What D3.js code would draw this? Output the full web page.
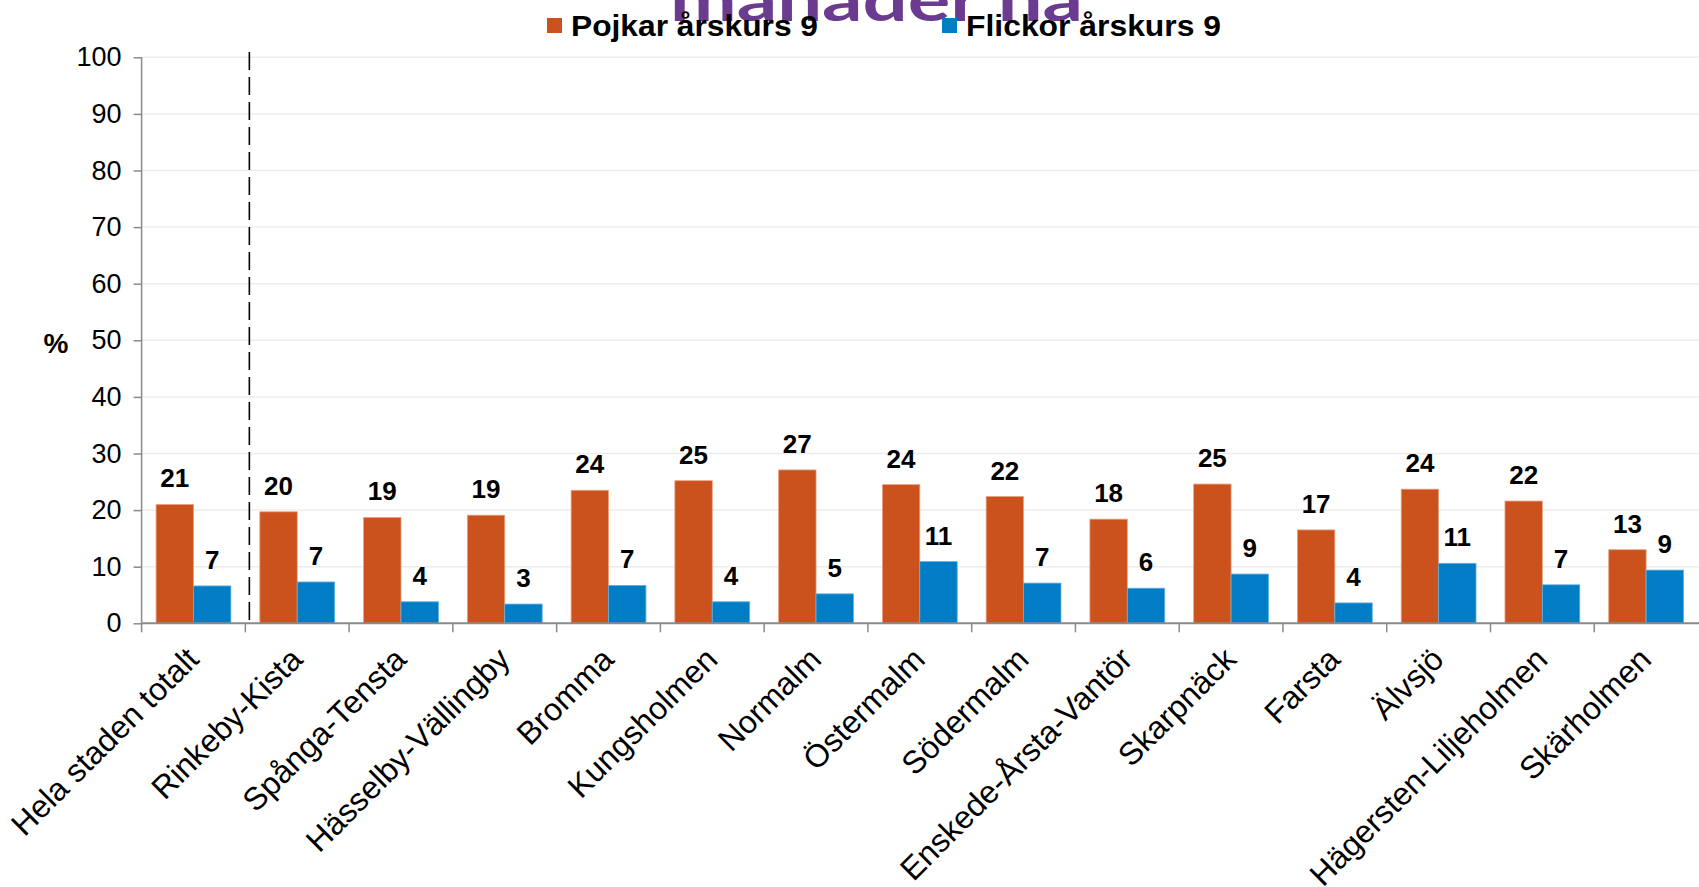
<!DOCTYPE html>
<html>
<head>
<meta charset="utf-8">
<script src="https://cdn.jsdelivr.net/npm/d3@7"></script>
<style>
  body { margin: 0; background: #fff; }
  svg { display: block; font-family: "Liberation Sans", Arial, sans-serif; }
</style>
</head>
<body>
<script>
// grouped bar chart, boys vs girls per district

var districts = ["Hela staden totalt", "Rinkeby-Kista", "Spånga-Tensta", "Hässelby-Vällingby",
    "Bromma", "Kungsholmen", "Normalm", "Östermalm", "Södermalm", "Enskede-Årsta-Vantör",
    "Skarpnäck", "Farsta", "Älvsjö", "Hägersten-Liljeholmen", "Skärholmen"];
var boys  = [21.0, 19.7, 18.7, 19.1, 23.5, 25.2, 27.1, 24.5, 22.4, 18.4, 24.6, 16.5, 23.7, 21.6, 13.0];
var girls = [6.6, 7.3, 3.8, 3.4, 6.7, 3.8, 5.2, 10.9, 7.1, 6.2, 8.7, 3.6, 10.6, 6.8, 9.4];
var boysLabels  = ["21", "20", "19", "19", "24", "25", "27", "24", "22", "18", "25", "17", "24", "22", "13"];
var girlsLabels = ["7", "7", "4", "3", "7", "4", "5", "11", "7", "6", "9", "4", "11", "7", "9"];
var series = ["Pojkar årskurs 9", "Flickor årskurs 9"];
var colors = ["#cb511d", "#007dc4"];
var yTicks = [0, 10, 20, 30, 40, 50, 60, 70, 80, 90, 100];

var width = 1699, height = 887;

var svg = d3.select("body").append("svg")
    .attr("width", width)
    .attr("height", height);

// scales
var x = d3.scaleBand()
    .domain(districts)
    .range([141.6, 1698]);

var xSub = d3.scaleBand()
    .domain([0, 1])
    .range([0, x.bandwidth()])
    .paddingOuter(0.387);

var y = d3.scaleLinear()
    .domain([0, 100])
    .range([623.3, 57.3]);

// gridlines
svg.append("g")
    .selectAll("line")
    .data(yTicks.slice(1))
    .enter()
    .append("line")
    .attr("x1", x.range()[0])
    .attr("x2", width)
    .attr("y1", function(d){ return y(d); })
    .attr("y2", function(d){ return y(d); })
    .attr("stroke", "#ececec")
    .attr("stroke-width", 1.5);

// cut-off title at the top
svg.append("text")
    .attr("x", 670)
    .attr("y", 21)
    .attr("textLength", 413)
    .attr("lengthAdjust", "spacingAndGlyphs")
    .style("font-family", "Lato, 'Open Sans', sans-serif")
    .style("font-weight", "bold")
    .style("font-size", "60px")
    .style("fill", "#6b3b8f")
    .text("månader nå");

// y axis
var yAxis = d3.axisLeft(y)
    .tickValues(yTicks)
    .tickSize(8)
    .tickPadding(12);

var gy = svg.append("g")
    .attr("transform", "translate(" + x.range()[0] + ",0)")
    .call(yAxis);
gy.select(".domain").attr("stroke", "#8a8a8a").attr("stroke-width", 1.5)
    .attr("d", "M0," + y(100) + "V" + y(0));
gy.selectAll(".tick line").attr("stroke", "#8a8a8a").attr("stroke-width", 1.5);
gy.selectAll(".tick text")
    .style("font-size", "27px")
    .style("font-family", "'Liberation Sans', Arial, sans-serif")
    .attr("fill", "#000");

// % label
svg.append("text")
    .attr("x", 56)
    .attr("y", 353)
    .attr("text-anchor", "middle")
    .style("font-size", "28px")
    .style("font-weight", "bold")
    .text("%");

// bars
var groups = svg.selectAll(".district")
    .data(districts)
    .enter()
    .append("g")
    .attr("class", "district")
    .attr("transform", function(d){ return "translate(" + x(d) + ",0)"; });

[boys, girls].forEach(function(vals, s){
    groups.append("rect")
        .attr("x", xSub(s))
        .attr("width", xSub.bandwidth())
        .attr("y", function(d, i){ return y(vals[i]); })
        .attr("height", function(d, i){ return y(0) - y(vals[i]); })
        .attr("fill", colors[s])
        .attr("stroke", s === 0 ? "#e8a283" : "#5fb0e0")
        .attr("stroke-width", 0.8);
});

// value labels
[[boys, boysLabels], [girls, girlsLabels]].forEach(function(pair, s){
    groups.append("text")
        .attr("x", xSub(s) + xSub.bandwidth() / 2)
        .attr("y", function(d, i){ return y(pair[0][i]) - 17; })
        .attr("text-anchor", "middle")
        .style("font-size", "26px")
        .style("font-weight", "bold")
        .text(function(d, i){ return pair[1][i]; });
});

// x axis line and category ticks
svg.append("line")
    .attr("x1", x.range()[0])
    .attr("x2", width)
    .attr("y1", y(0))
    .attr("y2", y(0))
    .attr("stroke", "#8a8a8a")
    .attr("stroke-width", 2);

svg.append("g")
    .selectAll("line")
    .data(districts)
    .enter()
    .append("line")
    .attr("x1", function(d){ return x(d); })
    .attr("x2", function(d){ return x(d); })
    .attr("y1", y(0))
    .attr("y2", y(0) + 9)
    .attr("stroke", "#8a8a8a")
    .attr("stroke-width", 1.5);

// category labels, rotated
svg.append("g")
    .selectAll("text")
    .data(districts)
    .enter()
    .append("text")
    .attr("text-anchor", "end")
    .attr("transform", function(d){
        return "translate(" + (x(d) + x.bandwidth() / 2 + 7) + "," + (y(0) + 38) + ") rotate(-45)";
    })
    .style("font-size", "32px")
    .text(function(d){ return d; });

// dashed separator after the city total
svg.append("line")
    .attr("x1", x(districts[1]) + 4)
    .attr("x2", x(districts[1]) + 4)
    .attr("y1", 52)
    .attr("y2", y(0) + 2)
    .attr("stroke", "#000")
    .attr("stroke-width", 1.6)
    .attr("stroke-dasharray", "18,7");

// legend
var legendX = [547, 942];
var legendLen = [247, 255];
series.forEach(function(name, i){
    svg.append("rect")
        .attr("x", legendX[i])
        .attr("y", 18)
        .attr("width", 15)
        .attr("height", 15)
        .attr("fill", colors[i]);
    svg.append("text")
        .attr("x", legendX[i] + 24)
        .attr("y", 36)
        .attr("textLength", legendLen[i])
        .attr("lengthAdjust", "spacingAndGlyphs")
        .style("font-size", "29px")
        .style("font-weight", "bold")
        .text(name);
});
</script>
</body>
</html>
